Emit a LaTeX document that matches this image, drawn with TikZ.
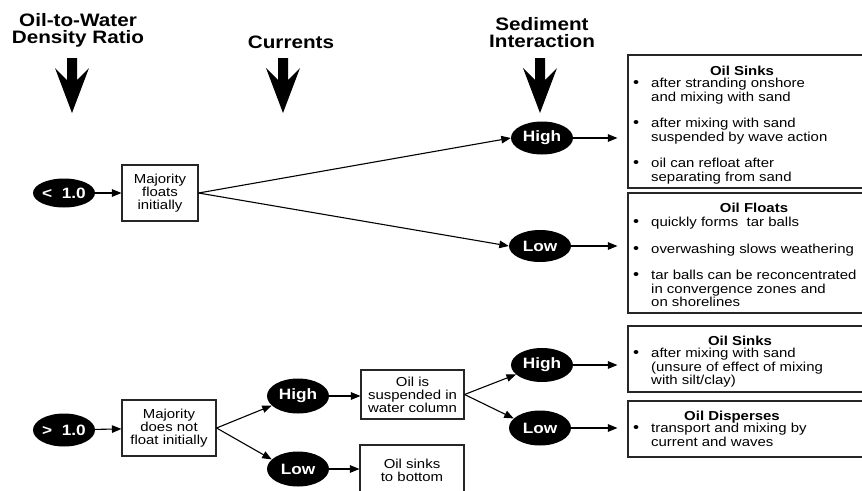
\documentclass[tikz,border=0pt]{standalone}
\usepackage{fontspec}
\setmainfont{Liberation Sans}[FakeStretch=1.15]
\usetikzlibrary{shapes.geometric,arrows.meta,calc}
\newcommand\itm[1]{\makebox[18pt][l]{\raisebox{0pt}{\fontsize{15}{15}\selectfont •}}#1}
\newcommand\indt{\hspace*{18pt}}
\begin{document}
\begin{tikzpicture}[x=1pt,y=-1pt,
  title/.style={font=\bfseries\fontsize{18}{17}\selectfont, align=center, inner sep=0pt},
  oval/.style={ellipse, fill=black, text=white, font=\bfseries\fontsize{15}{15}\selectfont,
    minimum width=62pt, minimum height=33pt, inner sep=0pt},
  box/.style={draw=black!85, line width=1.1pt, align=center,
    font=\fontsize{13}{13}\selectfont, inner sep=0pt},
  result/.style={draw=black!85, line width=1.1pt, inner sep=0pt, rectangle},
  heading/.style={font=\bfseries\fontsize{13}{13}\selectfont, inner sep=0pt, anchor=base},
  items/.style={font=\fontsize{13}{13.5}\selectfont, inner sep=0pt, anchor=north west, align=left},
  link/.style={line width=1.1pt, -{Triangle[length=9.5pt,width=7.5pt]}},
  bigarrow/.pic={\fill (-5,0) -- (5,0) -- (5,22) -- (17,10) -- (0,55) -- (-17,10) -- (-5,22) -- cycle;}
]
\useasboundingbox (0,0) rectangle (862,490);
\clip (0,0) rectangle (862,490);

% column headings with their down arrows
\node[title] (t1) at (78,30) {Oil-to-Water\\Density Ratio};
\node[title] (t2) at (291,42) {Currents};
\node[title] (t3) at (542,33) {Sediment\\Interaction};
\pic at (72,58) {bigarrow};
\pic at (283,58) {bigarrow};
\pic at (540,58) {bigarrow};

% density ratio < 1.0 branch
\node[oval, minimum height=29pt] (lt) at (64,193) {<~~1.0};
\node[box, minimum width=76pt, minimum height=56pt] (fb) at (160,193) {Majority\\floats\\initially};
\node[oval, minimum height=33pt] (hi1) at (542,138) {High};
\node[oval, minimum height=32pt] (lo1) at (540,246) {Low};

% density ratio > 1.0 branch
\node[oval, minimum height=33pt] (gt) at (64,430) {>~~1.0};
\node[box, minimum width=94pt, minimum height=56pt] (nb) at (169,428) {Majority\\does not\\float initially};
\node[oval, minimum height=35pt] (hi2) at (298,396) {High};
\node[oval, minimum height=35pt] (lo2) at (298,469) {Low};
\node[box, minimum width=103pt, minimum height=49pt] (sus) at (412.5,394.5) {Oil is\\suspended in\\water column};
\node[box, minimum width=104pt, minimum height=50pt] (sinkb) at (412,470) {Oil sinks\\to bottom};
\node[oval, minimum height=34pt] (hi3) at (542,365) {High};
\node[oval, minimum height=35pt] (lo3) at (540,428) {Low};

% outcome boxes
\node[result, minimum width=252pt, minimum height=133pt] (r1) at (754,121.5) {};
\node[heading] (r1h) at (742,75) {Oil Sinks};
\node[items] (r1i) at (633,78) {\itm{after stranding onshore}\\\indt and mixing with sand\\[13pt]
  \itm{after mixing with sand}\\\indt suspended by wave action\\[13pt]
  \itm{oil can refloat after}\\\indt separating from sand};

\node[result, minimum width=252pt, minimum height=120pt] (r2) at (754,253) {};
\node[heading] (r2h) at (754,212.5) {Oil Floats};
\node[items] (r2i) at (633,217) {\itm{quickly forms~ tar balls}\\[13pt]
  \itm{overwashing slows weathering}\\[13pt]
  \itm{tar balls can be reconcentrated}\\\indt in convergence zones and\\\indt on shorelines};

\node[result, minimum width=252pt, minimum height=66pt] (r3) at (754,359) {};
\node[heading] (r3h) at (740,345.5) {Oil Sinks};
\node[items] (r3i) at (633,348) {\itm{after mixing with sand}\\\indt(unsure of effect of mixing\\\indt with silt/clay)};

\node[result, minimum width=252pt, minimum height=56pt] (r4) at (754,429) {};
\node[heading] (r4h) at (732,420.5) {Oil Disperses};
\node[items] (r4i) at (633,423) {\itm{transport and mixing by}\\\indt current and waves};

% connectors
\draw[link] (lt) -- (fb);
\draw[link] (fb.east) -- (hi1.west);
\draw[link] (fb.east) -- (lo1.west);
\draw[link, shorten >=10pt] (hi1.east) -- (hi1 -| r1.west);
\draw[link, shorten >=10pt] (lo1.east) -- (lo1 -| r2.west);

\draw[link] (gt) -- (nb);
\draw[link] (nb.east) -- (hi2.200);
\draw[link] (nb.east) -- (lo2.160);
\draw[link] (hi2.east) -- (hi2 -| sus.west);
\draw[link] (lo2.east) -- (lo2 -| sinkb.west);
\draw[link] (sus.east) -- (hi3.200);
\draw[link] (sus.east) -- (lo3.160);
\draw[link, shorten >=10pt] (hi3.east) -- (hi3 -| r3.west);
\draw[link, shorten >=10pt] (lo3.east) -- (lo3 -| r4.west);
\end{tikzpicture}
\end{document}
